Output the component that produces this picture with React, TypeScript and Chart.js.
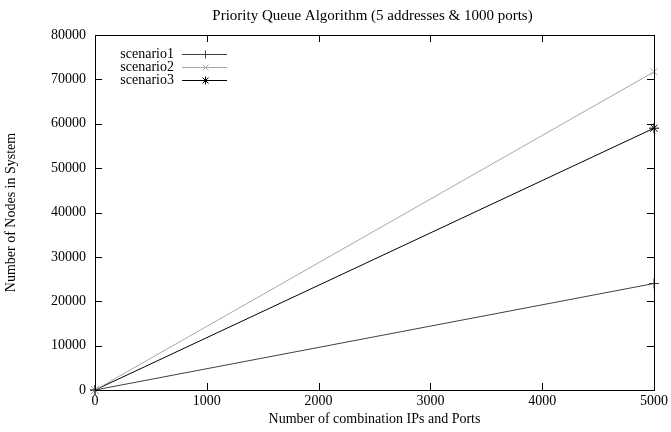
import React, { useEffect, useRef } from "react";
import { Chart, registerables } from "chart.js";
Chart.register(...registerables);

const xValues = [0, 5000];
const scenario1 = [0, 24000];
const scenario2 = [0, 71700];
const scenario3 = [0, 59000];
const seriesNames = ["scenario1", "scenario2", "scenario3"];
const xTicks = [0, 1000, 2000, 3000, 4000, 5000];
const yTicks = [0, 10000, 20000, 30000, 40000, 50000, 60000, 70000, 80000];
const titleText = "Priority Queue Algorithm (5 addresses & 1000 ports)";
const xTitle = "Number of combination IPs and Ports";
const yTitle = "Number of Nodes in System";

const FONT = "'Liberation Serif', 'DejaVu Serif', serif";
const colors = ["#404040", "#a8a8a8", "#000000"];
const styles = ["cross", "crossRot", "star"];

function drawMarker(c: CanvasRenderingContext2D, style: string, x: number, y: number, r: number) {
  c.beginPath();
  if (style === "cross" || style === "star") {
    c.moveTo(x - r, y); c.lineTo(x + r, y);
    c.moveTo(x, y - r); c.lineTo(x, y + r);
  }
  if (style === "crossRot" || style === "star") {
    const d = r * 0.75;
    c.moveTo(x - d, y - d); c.lineTo(x + d, y + d);
    c.moveTo(x - d, y + d); c.lineTo(x + d, y - d);
  }
  c.stroke();
}

export default function App() {
  const ref = useRef<HTMLCanvasElement | null>(null);
  useEffect(() => {
    document.body.style.margin = "0";
    const ctx = ref.current!.getContext("2d")!;
    const seriesVals = [scenario1, scenario2, scenario3];
    const framePlugin = {
      id: "frame",
      afterDraw(chart: any) {
        const c = chart.ctx;
        const { left, right, top, bottom } = chart.chartArea;
        const xs = chart.scales.x;
        const ys = chart.scales.y;
        c.save();
        c.strokeStyle = "#000";
        c.lineWidth = 1;
        c.strokeRect(left + 0.5, top + 0.5, right - left, bottom - top);
        const tl = 7;
        c.beginPath();
        for (const v of xTicks) {
          const px = Math.round(xs.getPixelForValue(v)) + 0.5;
          c.moveTo(px, bottom); c.lineTo(px, bottom - tl);
          c.moveTo(px, top); c.lineTo(px, top + tl);
        }
        for (const v of yTicks) {
          const py = Math.round(ys.getPixelForValue(v)) + 0.5;
          c.moveTo(left, py); c.lineTo(left + tl, py);
          c.moveTo(right, py); c.lineTo(right - tl, py);
        }
        c.stroke();
        // title
        c.fillStyle = "#000";
        c.font = `15px ${FONT}`;
        c.textAlign = "center";
        c.textBaseline = "middle";
        c.fillText(titleText, (left + right) / 2 - 2, 16);
        // legend
        c.font = `14px ${FONT}`;
        c.textAlign = "right";
        for (let i = 0; i < seriesNames.length; i++) {
          const y = top + 19 + i * 13;
          c.fillStyle = "#000";
          c.fillText(seriesNames[i], left + 79, y);
          c.strokeStyle = colors[i];
          c.lineWidth = 1;
          c.beginPath();
          c.moveTo(left + 87, y + 0.5);
          c.lineTo(left + 132, y + 0.5);
          c.stroke();
          drawMarker(c, styles[i], left + 110.5, y + 0.5, 4);
        }
        c.restore();
      },
    };
    const chart = new Chart(ctx, {
      type: "line",
      data: {
        labels: xValues,
        datasets: seriesVals.map((vals, i) => ({
          label: seriesNames[i],
          data: xValues.map((x, j) => ({ x, y: vals[j] })),
          borderColor: colors[i],
          backgroundColor: colors[i],
          borderWidth: 1,
          pointStyle: styles[i] as any,
          pointRadius: 5,
          pointBorderWidth: 1,
          fill: false,
          tension: 0,
          clip: false as any,
        })),
      },
      options: {
        animation: false,
        responsive: false,
        layout: { padding: { top: 35, right: 16, left: 0, bottom: 0 } },
        plugins: { legend: { display: false }, title: { display: false }, tooltip: { enabled: false } },
        scales: {
          x: {
            type: "linear",
            min: 0,
            max: 5000,
            afterBuildTicks: (s: any) => { s.ticks = xTicks.map((v) => ({ value: v })); },
            afterFit: (s: any) => { s.height = 42; },
            grid: { display: false, drawTicks: false },
            border: { display: false },
            ticks: { color: "#000", font: { family: FONT, size: 14 }, padding: 3, maxRotation: 0, callback: (v: any) => String(v) },
            title: { display: true, text: xTitle, color: "#000", font: { family: FONT, size: 14 }, padding: { top: 0, bottom: 4 } },
          },
          y: {
            type: "linear",
            min: 0,
            max: 80000,
            afterBuildTicks: (s: any) => { s.ticks = yTicks.map((v) => ({ value: v })); },
            afterFit: (s: any) => { s.width = 95; },
            grid: { display: false, drawTicks: false },
            border: { display: false },
            ticks: { color: "#000", font: { family: FONT, size: 14 }, padding: 9, callback: (v: any) => String(v) },
            title: { display: true, text: yTitle, color: "#000", font: { family: FONT, size: 14 }, padding: { top: 3, bottom: 0 } },
          },
        },
      },
      plugins: [framePlugin],
    });
    return () => chart.destroy();
  }, []);
  return (
    <div style={{ width: 671, height: 432, background: "#fff" }}>
      <canvas ref={ref} width={671} height={432} style={{ display: "block" }} />
    </div>
  );
}
